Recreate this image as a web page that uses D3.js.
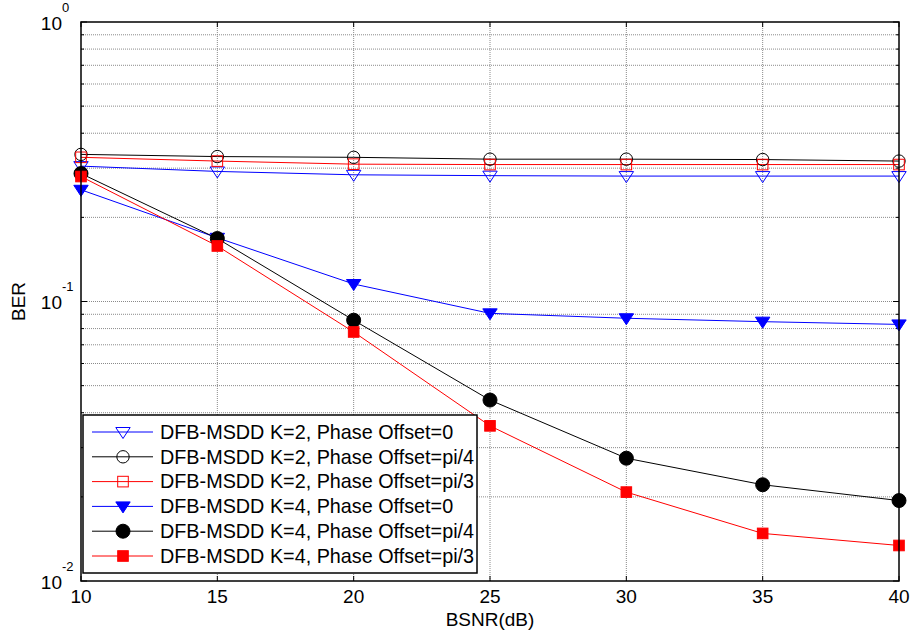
<!DOCTYPE html>
<html>
<head>
<meta charset="utf-8">
<script src="https://cdn.jsdelivr.net/npm/d3@7"></script>
<style>
body{margin:0;background:#fff;}
text{font-family:"Liberation Sans",Arial,sans-serif;fill:#000;}
</style>
</head>
<body>
<svg id="chart" width="911" height="639"></svg>
<script>
const snr = [10, 15, 20, 25, 30, 35, 40];
const xTicks = [10, 15, 20, 25, 30, 35, 40];
const yDecades = [-2, -1, 0];
const k2_off0   = [0.305, 0.292, 0.284, 0.282, 0.281, 0.281, 0.281];
const k2_offpi4 = [0.336, 0.330, 0.328, 0.323, 0.323, 0.322, 0.318];
const k2_offpi3 = [0.328, 0.318, 0.310, 0.309, 0.309, 0.309, 0.309];
const k4_off0   = [0.251, 0.169, 0.1155, 0.0907, 0.0871, 0.0847, 0.0828];
const k4_offpi4 = [0.287, 0.168, 0.0857, 0.0444, 0.0275, 0.0221, 0.0194];
const k4_offpi3 = [0.280, 0.158, 0.0778, 0.0359, 0.0208, 0.0148, 0.0134];
const seriesNames = [
  "DFB-MSDD K=2, Phase Offset=0",
  "DFB-MSDD K=2, Phase Offset=pi/4",
  "DFB-MSDD K=2, Phase Offset=pi/3",
  "DFB-MSDD K=4, Phase Offset=0",
  "DFB-MSDD K=4, Phase Offset=pi/4",
  "DFB-MSDD K=4, Phase Offset=pi/3"
];
const xLabel = "BSNR(dB)";
const yLabel = "BER";

const series = [
  {name: seriesNames[0], values: k2_off0,   color: "#0000ff", marker: "tri", filled: false},
  {name: seriesNames[1], values: k2_offpi4, color: "#000000", marker: "circle", filled: false},
  {name: seriesNames[2], values: k2_offpi3, color: "#ff0000", marker: "square", filled: false},
  {name: seriesNames[3], values: k4_off0,   color: "#0000ff", marker: "tri", filled: true},
  {name: seriesNames[4], values: k4_offpi4, color: "#000000", marker: "circle", filled: true},
  {name: seriesNames[5], values: k4_offpi3, color: "#ff0000", marker: "square", filled: true}
];

const svg = d3.select("#chart");
const L = 81, R = 899, T = 22, B = 581;
const x = d3.scaleLinear().domain([10, 40]).range([L, R]);
const y = d3.scaleLog().domain([0.01, 1]).range([B, T]);

// grid
const g = svg.append("g");
const minorVals = [];
for (let d = -2; d < 0; d++) for (let m = 1; m <= 9; m++) minorVals.push(m * Math.pow(10, d));
minorVals.push(1);
g.selectAll(".ygrid").data(minorVals.filter(v => v > 0.01 && v < 1)).enter().append("line")
  .attr("x1", L).attr("x2", R).attr("y1", d => y(d)).attr("y2", d => y(d))
  .attr("stroke", "#8a8a8a").attr("stroke-width", 1).attr("stroke-dasharray", "1,1");
g.selectAll(".xgrid").data(xTicks.filter(v => v > 10 && v < 40)).enter().append("line")
  .attr("y1", T).attr("y2", B).attr("x1", d => x(d)).attr("x2", d => x(d))
  .attr("stroke", "#8a8a8a").attr("stroke-width", 1).attr("stroke-dasharray", "1,1");

// ticks (inside, all sides)
const tk = svg.append("g").attr("stroke", "#000").attr("stroke-width", 1);
xTicks.forEach(v => {
  tk.append("line").attr("x1", x(v)).attr("x2", x(v)).attr("y1", B).attr("y2", B - 5);
  tk.append("line").attr("x1", x(v)).attr("x2", x(v)).attr("y1", T).attr("y2", T + 5);
});
minorVals.forEach(v => {
  const major = yDecades.some(d => Math.abs(Math.pow(10, d) - v) < 1e-12);
  const len = major ? 6 : 3;
  tk.append("line").attr("x1", L).attr("x2", L + len).attr("y1", y(v)).attr("y2", y(v));
  tk.append("line").attr("x1", R).attr("x2", R - len).attr("y1", y(v)).attr("y2", y(v));
});

// series lines
const line = d3.line().x((d, i) => x(snr[i])).y(d => y(d));
const lines = svg.append("g");
series.forEach(s => {
  lines.append("path").datum(s.values).attr("d", line)
    .attr("fill", "none").attr("stroke", s.color).attr("stroke-width", 1);
});

function drawMarker(sel, s, cx, cy) {
  const fill = s.filled ? s.color : "none";
  if (s.marker === "tri") {
    const w = 7.2;
    sel.append("path")
      .attr("d", `M${cx - w},${cy - 4.5}L${cx + w},${cy - 4.5}L${cx},${cy + 6.5}Z`)
      .attr("fill", fill).attr("stroke", s.color).attr("stroke-width", 1);
  } else if (s.marker === "circle") {
    sel.append("circle").attr("cx", cx).attr("cy", cy).attr("r", s.filled ? 7 : 6.2)
      .attr("fill", fill).attr("stroke", s.color).attr("stroke-width", 1);
  } else {
    const h = 5.3;
    sel.append("rect").attr("x", cx - h).attr("y", cy - h).attr("width", 2 * h).attr("height", 2 * h)
      .attr("fill", fill).attr("stroke", s.color).attr("stroke-width", 1);
  }
}
const marks = svg.append("g");
series.forEach(s => {
  s.values.forEach((v, i) => drawMarker(marks, s, x(snr[i]), y(v)));
});

// axes box
svg.append("rect").attr("x", L).attr("y", T).attr("width", R - L).attr("height", B - T)
  .attr("fill", "none").attr("stroke", "#000").attr("stroke-width", 1.5);

// x tick labels
svg.append("g").selectAll("text").data(xTicks).enter().append("text")
  .attr("x", d => x(d)).attr("y", 603).attr("text-anchor", "middle")
  .attr("font-size", 19).text(d => d);

// y tick labels
const yl = svg.append("g");
yDecades.forEach(d => {
  yl.append("text").attr("x", 62).attr("y", y(Math.pow(10, d)) + 7.5)
    .attr("text-anchor", "end").attr("font-size", 19).text("10");
  yl.append("text").attr("x", 62).attr("y", y(Math.pow(10, d)) - 10.5)
    .attr("font-size", 13).text(String(d));
});

// axis labels
svg.append("text").attr("x", (L + R) / 2).attr("y", 626).attr("text-anchor", "middle")
  .attr("font-size", 19).text(xLabel);
svg.append("text").attr("transform", `translate(25,${(T + B) / 2}) rotate(-90)`)
  .attr("text-anchor", "middle").attr("font-size", 19).text(yLabel);

// legend
const lg = svg.append("g");
const lgX = 83, lgY = 415, lgW = 394, lgH = 158;
lg.append("rect").attr("x", lgX).attr("y", lgY).attr("width", lgW).attr("height", lgH)
  .attr("fill", "#fff").attr("stroke", "#000").attr("stroke-width", 1.5);
series.forEach((s, i) => {
  const cy = 432 + i * 24.8;
  lg.append("line").attr("x1", 92).attr("x2", 153).attr("y1", cy).attr("y2", cy)
    .attr("stroke", s.color).attr("stroke-width", 1);
  drawMarker(lg, s, 123, cy);
  lg.append("text").attr("x", 160).attr("y", cy + 6.8).attr("font-size", 19.8).text(s.name);
});
</script>
</body>
</html>
